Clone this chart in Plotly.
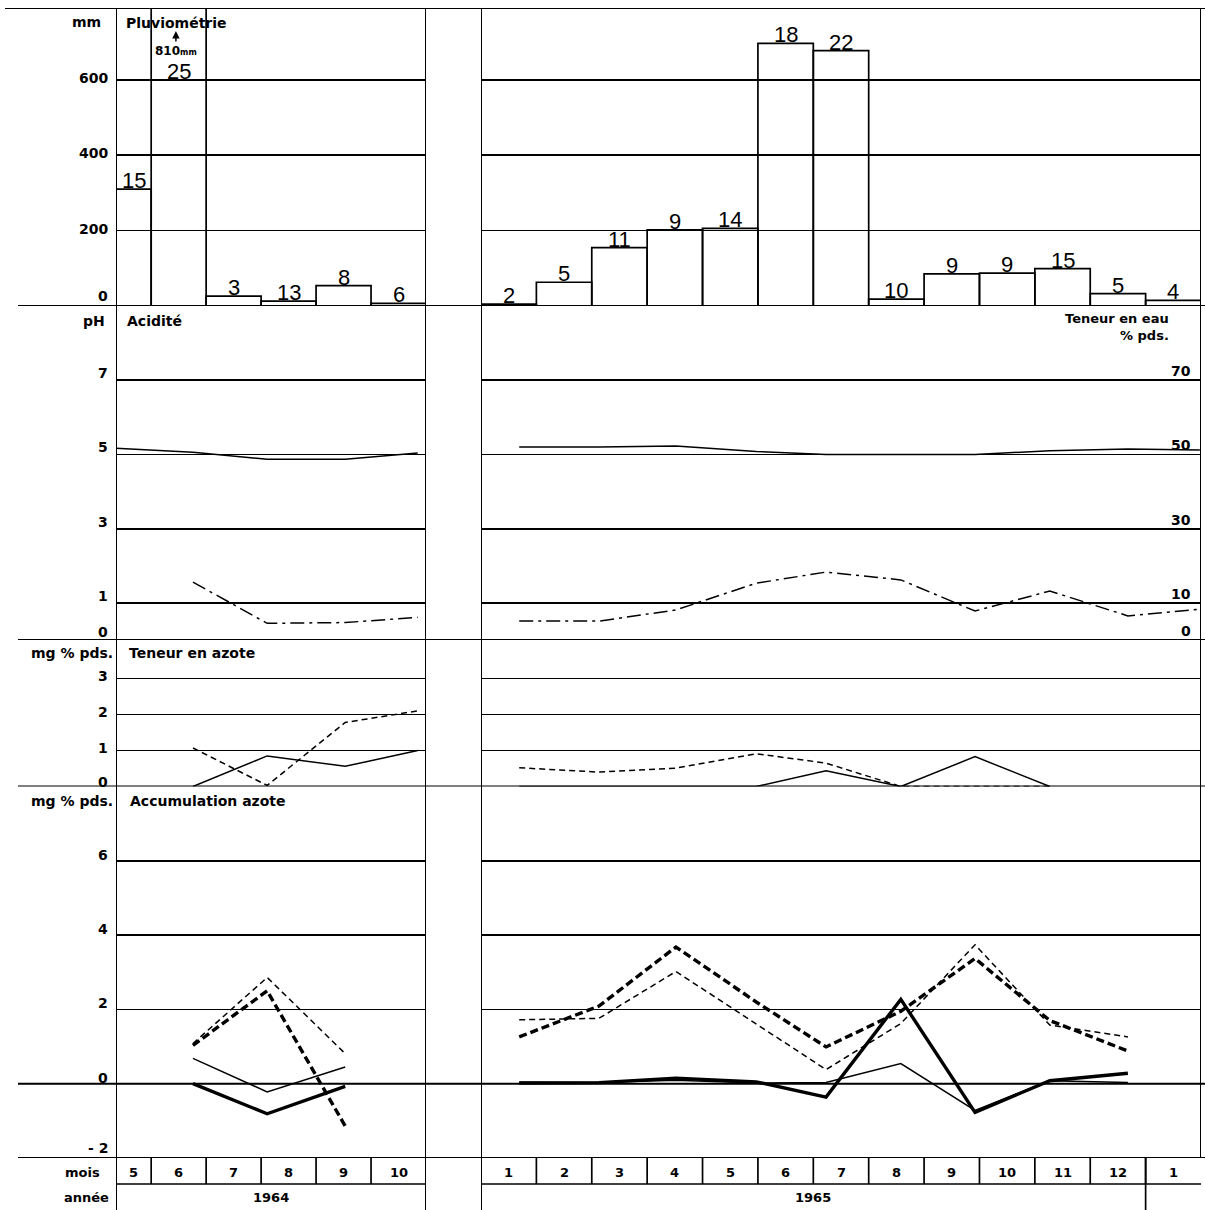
import plotly.graph_objects as go

W, H = 1205, 1210

# ---------------- data ----------------
# Pluviométrie : monthly rainfall (mm) and number of rainy days
rain_left_months = [5, 6, 7, 8, 9, 10]
rain_left_mm = [310, 810, 26, 13, 54, 7]
rain_left_days = [15, 25, 3, 13, 8, 6]

rain_right_months = [1, 2, 3, 4, 5, 6, 7, 8, 9, 10, 11, 12, 13]
rain_right_mm = [5, 63, 155, 202, 206, 696, 677, 18, 85, 87, 99, 33, 15]
rain_right_days = [2, 5, 11, 9, 14, 18, 22, 10, 9, 9, 15, 5, 4]

# sampling dates expressed in months (month m runs from m to m+1)
samp_left_ph = [5.36, 6.76, 8.11, 9.53, 10.85]
samp_left = [6.76, 8.11, 9.53, 10.85]
samp_left_acc = [6.76, 8.11, 9.53]
samp_right = [1.69, 3.13, 4.52, 5.97, 7.23, 8.58, 9.92, 11.27, 12.68, 13.98]

# Acidité (pH) and Teneur en eau (% pds.)
ph_left = [5.17, 5.06, 4.87, 4.87, 5.04]
eau_left = [15.6, 4.5, 4.7, 6.1]
ph_right = [5.2, 5.2, 5.23, 5.08, 5.0, 5.0, 5.0, 5.1, 5.15, 5.12]
eau_right = [5.1, 5.1, 8.1, 15.3, 18.3, 16.2, 7.8, 13.2, 6.5, 8.3]

# Teneur en azote (mg % pds.)
az_dash_left = [1.07, 0.03, 1.78, 2.10]
az_solid_left = [0.0, 0.85, 0.56, 1.0]
az_dash_right = [0.52, 0.40, 0.51, 0.91, 0.65, 0.0, 0.0, 0.0]
az_solid_right = [0.0, 0.0, 0.0, 0.0, 0.44, 0.0, 0.83, 0.0]

# Accumulation azote (mg % pds.)
acc_thin_dash_left = [1.08, 2.86, 0.81]
acc_thick_dash_left = [1.03, 2.50, -1.14]
acc_thin_solid_left = [0.68, -0.22, 0.45]
acc_thick_solid_left = [0.0, -0.81, -0.07]
acc_thin_dash_right = [1.72, 1.76, 3.02, 1.60, 0.38, 1.62, 3.74, 1.58, 1.26]
acc_thick_dash_right = [1.26, 2.09, 3.68, 2.20, 0.99, 1.95, 3.37, 1.70, 0.88]
acc_thin_solid_right = [0.04, 0.03, 0.09, 0.02, 0.03, 0.54, -0.72, 0.08, 0.03]
acc_thick_solid_right = [0.02, 0.03, 0.15, 0.05, -0.36, 2.27, -0.77, 0.08, 0.28]

# tick labels
rain_ticks = [0, 200, 400, 600]
ph_ticks = [0, 1, 3, 5, 7]
eau_ticks = [0, 10, 30, 50, 70]
az_ticks = [0, 1, 2, 3]
acc_ticks = [-2, 0, 2, 4, 6]

mois_left = ["5", "6", "7", "8", "9", "10"]
mois_right = ["1", "2", "3", "4", "5", "6", "7", "8", "9", "10", "11", "12", "1"]
annees = ["1964", "1965"]

# ---------------- layout helpers ----------------
def px_x(p):
    return p / W


def px_y(p):
    return 1 - p / H


LEFT_RANGE = [5.36, 11]
RIGHT_RANGE = [1, 14]
RAIN_MAX = 790

panels = [  # top px, bottom px, range, grid values
    (8, 306, [0, RAIN_MAX], [200, 400, 600]),
    (306, 640, [0, 9], [1, 3, 5, 7]),
    (640, 786.5, [0, 4.07], [1, 2, 3]),
    (786.5, 1158, [-2, 8], [2, 4, 6]),
]

BOLD = dict(family="DejaVu Sans", size=14, color="black", weight="bold")
HAND = dict(family="Liberation Sans Narrow, Liberation Sans", size=22, color="black")
LW = 1.7

layout = dict(
    width=W, height=H, margin=dict(l=0, r=0, t=0, b=0),
    paper_bgcolor="white", plot_bgcolor="white", showlegend=False,
    xaxis=dict(domain=[px_x(116), px_x(426)], range=LEFT_RANGE, visible=False, fixedrange=True),
    xaxis2=dict(domain=[px_x(481), px_x(1201)], range=RIGHT_RANGE, visible=False, fixedrange=True),
)
for i, (t, b, rng, grid) in enumerate(panels):
    for j, xa in enumerate(["x", "x2"]):
        n = i + 1 + 4 * j
        name = "yaxis" if n == 1 else f"yaxis{n}"
        layout[name] = dict(domain=[px_y(b), px_y(t)], range=rng, anchor=xa,
                            tickvals=grid, showticklabels=False, ticks="",
                            showgrid=True, gridcolor="black", gridwidth=LW,
                            zeroline=False, showline=False, fixedrange=True)
layout["yaxis9"] = dict(overlaying="y2", range=[0, 90], anchor="x", visible=False, fixedrange=True)
layout["yaxis10"] = dict(overlaying="y6", range=[0, 90], anchor="x2", visible=False, fixedrange=True)

fig = go.Figure(layout=layout)

# ---------------- rain bars ----------------
def bar_geom(months, xmin):
    lefts = [max(m, xmin) for m in months]
    widths = [m + 1 - l for m, l in zip(months, lefts)]
    centers = [l + w / 2 for l, w in zip(lefts, widths)]
    return centers, widths


annotations = []
for months, mm, days, xa, xmin in [
    (rain_left_months, rain_left_mm, rain_left_days, "x", LEFT_RANGE[0]),
    (rain_right_months, rain_right_mm, rain_right_days, "x2", RIGHT_RANGE[0]),
]:
    centers, widths = bar_geom(months, xmin)
    ya = "y" if xa == "x" else "y5"
    fig.add_trace(go.Bar(x=centers, y=mm, width=widths, xaxis=xa, yaxis=ya,
                         marker=dict(color="rgba(0,0,0,0)", line=dict(color="black", width=LW)),
                         hoverinfo="skip"))
    for c, v, d in zip(centers, mm, days):
        yv = v if v <= RAIN_MAX else 600
        annotations.append(dict(x=c, y=yv, xref=xa, yref=ya, text=str(d), showarrow=False,
                                xanchor="center", yanchor="bottom", yshift=-6, font=HAND))

# ---------------- lines ----------------
def line(x, y, xa, ya, width, dash="solid"):
    fig.add_trace(go.Scatter(x=x, y=y, xaxis=xa, yaxis=ya, mode="lines",
                             line=dict(color="black", width=width, dash=dash),
                             hoverinfo="skip"))


THIN, THICK = 1.5, 3.4
DASH, TDASH, DASHDOT = "6px,4px", "8px,4px", "14px,5px,3px,5px"

# pH / water
line(samp_left_ph, ph_left, "x", "y2", THIN)
line(samp_right, ph_right, "x2", "y6", THIN)
line(samp_left, eau_left, "x", "y9", THIN, DASHDOT)
line(samp_right, eau_right, "x2", "y10", THIN, DASHDOT)
# azote
line(samp_left, az_dash_left, "x", "y3", THIN, DASH)
line(samp_left, az_solid_left, "x", "y3", THIN)
line(samp_right[:8], az_dash_right, "x2", "y7", THIN, DASH)
line(samp_right[:8], az_solid_right, "x2", "y7", THIN)
# accumulation
line(samp_left_acc, acc_thin_dash_left, "x", "y4", THIN, DASH)
line(samp_left_acc, acc_thick_dash_left, "x", "y4", THICK, TDASH)
line(samp_left_acc, acc_thin_solid_left, "x", "y4", THIN)
line(samp_left_acc, acc_thick_solid_left, "x", "y4", THICK)
line(samp_right[:9], acc_thin_dash_right, "x2", "y8", THIN, DASH)
line(samp_right[:9], acc_thick_dash_right, "x2", "y8", THICK, TDASH)
line(samp_right[:9], acc_thin_solid_right, "x2", "y8", THIN)
line(samp_right[:9], acc_thick_solid_right, "x2", "y8", THICK)

# ---------------- frame lines ----------------
shapes = []


def seg(x0, x1, y0, y1, xref="paper", yref="paper", w=LW):
    shapes.append(dict(type="line", x0=x0, x1=x1, y0=y0, y1=y1, xref=xref, yref=yref,
                       line=dict(color="black", width=w)))


# top border and panel separators across the whole sheet
seg(px_x(5), 1, RAIN_MAX, RAIN_MAX, yref="y", w=2)
for ya, v in [("y", 0), ("y2", 0), ("y3", 0), ("y4", 0), ("y4", -2)]:
    seg(px_x(18), 1, v, v, yref=ya, w=2)

# block edges
seg(LEFT_RANGE[0], LEFT_RANGE[0], px_y(1210), px_y(8), xref="x", w=2)
seg(LEFT_RANGE[1], LEFT_RANGE[1], px_y(1210), px_y(8), xref="x", w=2)
seg(RIGHT_RANGE[0], RIGHT_RANGE[0], px_y(1210), px_y(8), xref="x2", w=2)
seg(RIGHT_RANGE[1], RIGHT_RANGE[1], px_y(1158), px_y(8), xref="x2", w=2)

# bottom table
ROW_MOIS, ROW_SEP, ROW_AN = 1172, 1184, 1197
seg(LEFT_RANGE[0], LEFT_RANGE[1], px_y(ROW_SEP), px_y(ROW_SEP), xref="x")
seg(RIGHT_RANGE[0], RIGHT_RANGE[1], px_y(ROW_SEP), px_y(ROW_SEP), xref="x2")
for m in rain_left_months[1:]:
    seg(m, m, px_y(1158), px_y(ROW_SEP), xref="x")
for m in rain_right_months[1:]:
    seg(m, m, px_y(1158), px_y(ROW_SEP), xref="x2")
seg(13, 13, px_y(1158), px_y(1210), xref="x2")

lc, lw_ = bar_geom(rain_left_months, LEFT_RANGE[0])
rc, rw_ = bar_geom(rain_right_months, RIGHT_RANGE[0])
TBL = dict(BOLD, size=13)
for c, t in zip(lc, mois_left):
    annotations.append(dict(x=c, y=px_y(ROW_MOIS), xref="x", yref="paper", text=t, showarrow=False,
                            xanchor="center", yanchor="middle", font=TBL))
for c, t in zip(rc, mois_right):
    annotations.append(dict(x=c, y=px_y(ROW_MOIS), xref="x2", yref="paper", text=t, showarrow=False,
                            xanchor="center", yanchor="middle", font=TBL))
annotations.append(dict(x=sum(LEFT_RANGE) / 2, y=px_y(ROW_AN), xref="x", yref="paper", text=annees[0],
                        showarrow=False, xanchor="center", yanchor="middle", font=TBL))
annotations.append(dict(x=(RIGHT_RANGE[0] + 13) / 2, y=px_y(ROW_AN), xref="x2", yref="paper", text=annees[1],
                        showarrow=False, xanchor="center", yanchor="middle", font=TBL))
annotations.append(dict(x=px_x(82), y=px_y(ROW_MOIS), xref="paper", yref="paper", text="mois",
                        showarrow=False, xanchor="center", yanchor="middle", font=TBL))
annotations.append(dict(x=px_x(86), y=px_y(ROW_AN), xref="paper", yref="paper", text="année",
                        showarrow=False, xanchor="center", yanchor="middle", font=TBL))

# ---------------- axis labels ----------------
for ticks, ya, shift, low_shift in [
    (rain_ticks, "y", 2, 10), (ph_ticks, "y2", 7, 8), (az_ticks, "y3", 3, 5), (acc_ticks, "y4", 6, 10)
]:
    for v in ticks:
        annotations.append(dict(x=px_x(110), y=v, xref="paper", yref=ya, text=str(v).replace("-", "- "),
                                xanchor="right", yanchor="middle", showarrow=False,
                                yshift=low_shift if v == ticks[0] else shift, font=BOLD))
for v in eau_ticks:
    annotations.append(dict(x=px_x(1193), y=v, xref="paper", yref="y10", text=str(v),
                            xanchor="right", yanchor="middle", showarrow=False, yshift=9, font=BOLD))

HEAD = dict(BOLD, size=14)
heads = [
    ("mm", 103, 22, "right", 14), ("Pluviométrie", 124, 23, "left", 14),
    ("pH", 107, 321, "right", 14), ("Acidité", 125, 321, "left", 14),
    ("mg % pds.", 115, 653, "right", 14), ("Teneur en azote", 127, 653, "left", 14),
    ("mg % pds.", 115, 801, "right", 14), ("Accumulation azote", 128, 801, "left", 14),
    ("Teneur en eau", 1171, 318, "right", 13), ("% pds.", 1171, 335, "right", 13),
]
for t, x, y, anc, sz in heads:
    annotations.append(dict(x=px_x(x), y=px_y(y), xref="paper", yref="paper", text=t,
                            xanchor=anc, yanchor="middle", showarrow=False, font=dict(HEAD, size=sz)))

# 810 mm overflow marker
annotations.append(dict(x=rain_left_months[1] + 0.45, y=px_y(51), xref="x", yref="paper",
                        text="810<span style='font-size:8px'>mm</span>", showarrow=False,
                        xanchor="center", yanchor="middle", font=dict(BOLD, size=12)))
annotations.append(dict(x=rain_left_months[1] + 0.45, y=px_y(31), xref="x", yref="paper", text="",
                        showarrow=True, ax=0, ay=12, arrowhead=2, arrowsize=1, arrowwidth=1.5,
                        arrowcolor="black"))

fig.update_layout(shapes=shapes, annotations=annotations)
fig.write_html("out.html", config={"displayModeBar": False, "staticPlot": True},
               post_script="document.body.style.margin='0px';document.body.style.overflow='hidden';")
